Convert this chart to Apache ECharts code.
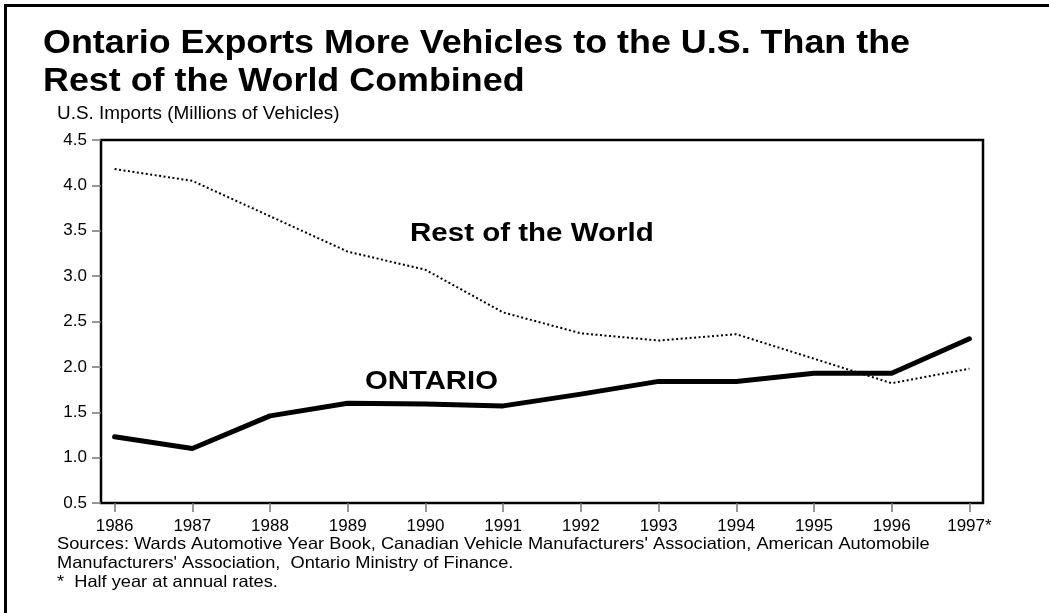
<!DOCTYPE html>
<html>
<head>
<meta charset="utf-8">
<script src="https://cdn.jsdelivr.net/npm/echarts@6/dist/echarts.min.js"></script>
<style>
  html, body { margin: 0; padding: 0; background: #fff; }
  #chart { width: 1049px; height: 613px; }
</style>
</head>
<body>
<div id="chart"></div>
<script>
// Years on the horizontal axis and their printed labels
const years = [1986, 1987, 1988, 1989, 1990, 1991, 1992, 1993, 1994, 1995, 1996, 1997];
const yearLabels = ['1986', '1987', '1988', '1989', '1990', '1991', '1992', '1993', '1994', '1995', '1996', '1997*'];

// U.S. vehicle imports, millions of vehicles
const ontario = [1.23, 1.10, 1.46, 1.60, 1.59, 1.57, 1.70, 1.84, 1.84, 1.93, 1.93, 2.31];
const restOfWorld = [4.18, 4.05, 3.66, 3.27, 3.07, 2.60, 2.37, 2.29, 2.36, 2.09, 1.82, 1.98];

const FONT = 'Liberation Sans, Arial, sans-serif';

const chart = echarts.init(document.getElementById('chart'), null, { renderer: 'canvas' });

const pair = (vals) => years.map((y, i) => [y, vals[i]]);

// wide-set text block, stretched horizontally by sx
const wideText = (x, y, text, font, sx, extra) => ({
  type: 'text', x: x, y: y, scaleX: sx, scaleY: 1,
  style: Object.assign({ text: text, font: font, fill: '#000', verticalAlign: 'top' }, extra || {})
});

chart.setOption({
  animation: false,
  backgroundColor: '#fff',
  grid: { left: 101, top: 140, right: 66, bottom: 110, show: true, borderColor: '#000', borderWidth: 2.5, backgroundColor: 'transparent' },
  xAxis: {
    type: 'value',
    min: 1985.825,
    max: 1997.175,
    axisLine: { show: false },
    splitLine: { show: false },
    axisTick: { show: true, customValues: years, length: 9, lineStyle: { color: '#777', width: 1.5 } },
    axisLabel: {
      customValues: years,
      margin: 15,
      fontFamily: FONT, fontSize: 17, color: '#000',
      formatter: (v) => yearLabels[years.indexOf(Math.round(v))]
    }
  },
  yAxis: {
    type: 'value',
    min: 0.5,
    max: 4.5,
    interval: 0.5,
    axisLine: { show: false },
    splitLine: { show: false },
    axisTick: { show: true, length: 9, lineStyle: { color: '#777', width: 1.5 } },
    axisLabel: { margin: 14, fontFamily: FONT, fontSize: 17, color: '#000', formatter: (v) => v.toFixed(1) }
  },
  series: [
    {
      name: 'Rest of the World',
      type: 'line',
      data: pair(restOfWorld),
      showSymbol: false,
      lineStyle: { color: '#000', width: 2, type: [2, 2.5] },
      z: 3
    },
    {
      name: 'ONTARIO',
      type: 'line',
      data: pair(ontario),
      showSymbol: false,
      lineStyle: { color: '#000', width: 5, cap: 'round', join: 'round' },
      z: 4
    }
  ],
  graphic: [
    // frame along the top and left edges
    { type: 'rect', shape: { x: 4, y: 4, width: 1045, height: 3 }, style: { fill: '#000' } },
    { type: 'rect', shape: { x: 4, y: 4, width: 3, height: 609 }, style: { fill: '#000' } },
    wideText(43, 25, 'Ontario Exports More Vehicles to the U.S. Than the\nRest of the World Combined',
      'bold 34px ' + FONT, 1.055, { lineHeight: 38 }),
    wideText(57, 105, 'U.S. Imports (Millions of Vehicles)', '18px ' + FONT, 1.05),
    wideText(410, 221, 'Rest of the World', 'bold 26px ' + FONT, 1.135),
    wideText(365, 369, 'ONTARIO', 'bold 26px ' + FONT, 1.127),
    wideText(57, 535,
      "Sources: Wards Automotive Year Book, Canadian Vehicle Manufacturers' Association, American Automobile\nManufacturers' Association,  Ontario Ministry of Finance.\n*  Half year at annual rates.",
      '16.5px ' + FONT, 1.105, { lineHeight: 19 })
  ]
});
</script>
</body>
</html>
